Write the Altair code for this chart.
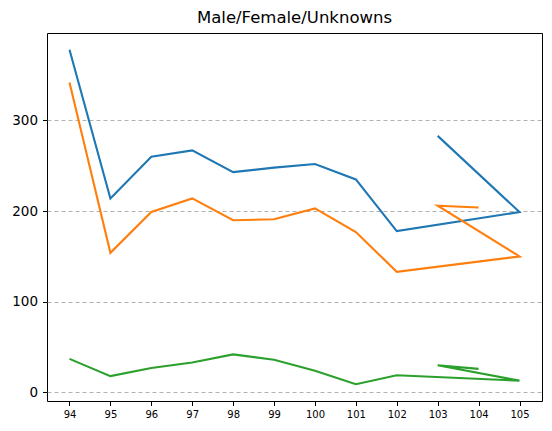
import altair as alt
import pandas as pd

years = [94, 95, 96, 97, 98, 99, 100, 101, 102, 105, 103, 104]
male = [378, 214, 260, 267, 243, 248, 252, 235, 178, 199, 283, 241]
female = [342, 154, 199, 214, 190, 191, 203, 177, 133, 150, 206, 204]
unknown = [37, 18, 27, 33, 42, 36, 24, 9, 19, 13, 30, 26]
series_names = ["Male", "Female", "Unknown"]
colors = ["#1f77b4", "#ff7f0e", "#2ca02c"]
x_ticks = list(range(94, 106))
y_ticks = [0, 100, 200, 300]

rows = []
for name, vals in zip(series_names, [male, female, unknown]):
    for i, (x, v) in enumerate(zip(years, vals)):
        rows.append({"series": name, "x": x, "y": v, "idx": i})
df = pd.DataFrame(rows)

chart = alt.Chart(df).mark_line(strokeWidth=2.1).encode(
    x=alt.X("x:Q", scale=alt.Scale(domain=[93.45, 105.55], nice=False, zero=False),
            axis=alt.Axis(values=x_ticks, title=None, grid=False, labelFontSize=10,
                          tickSize=4.5, labelPadding=4, domain=False, tickColor="black",
                          labelColor="black", labelFont="DejaVu Sans")),
    y=alt.Y("y:Q", scale=alt.Scale(domain=[-9.45, 396.5], nice=False, zero=False),
            axis=alt.Axis(values=y_ticks, title=None, grid=True, gridDash=[4, 3],
                          gridColor="#b0b0b0", gridWidth=1, labelFontSize=13.5,
                          tickSize=4.5, labelPadding=5, domain=False, tickColor="black",
                          labelColor="black", labelFont="DejaVu Sans")),
    color=alt.Color("series:N", scale=alt.Scale(domain=series_names, range=colors), legend=None),
    order=alt.Order("idx:Q"),
).properties(
    width=495, height=368,
    title=alt.TitleParams("Male/Female/Unknowns", fontSize=16.5, fontWeight="normal",
                          font="DejaVu Sans", color="black", offset=7, anchor="middle"),
    autosize=alt.AutoSizeParams(type="none"),
    padding={"left": 39, "top": 25, "right": 2, "bottom": 22},
).configure_view(stroke="black", strokeWidth=1)

chart.save("out.html", embed_options={"renderer": "svg", "actions": False})
